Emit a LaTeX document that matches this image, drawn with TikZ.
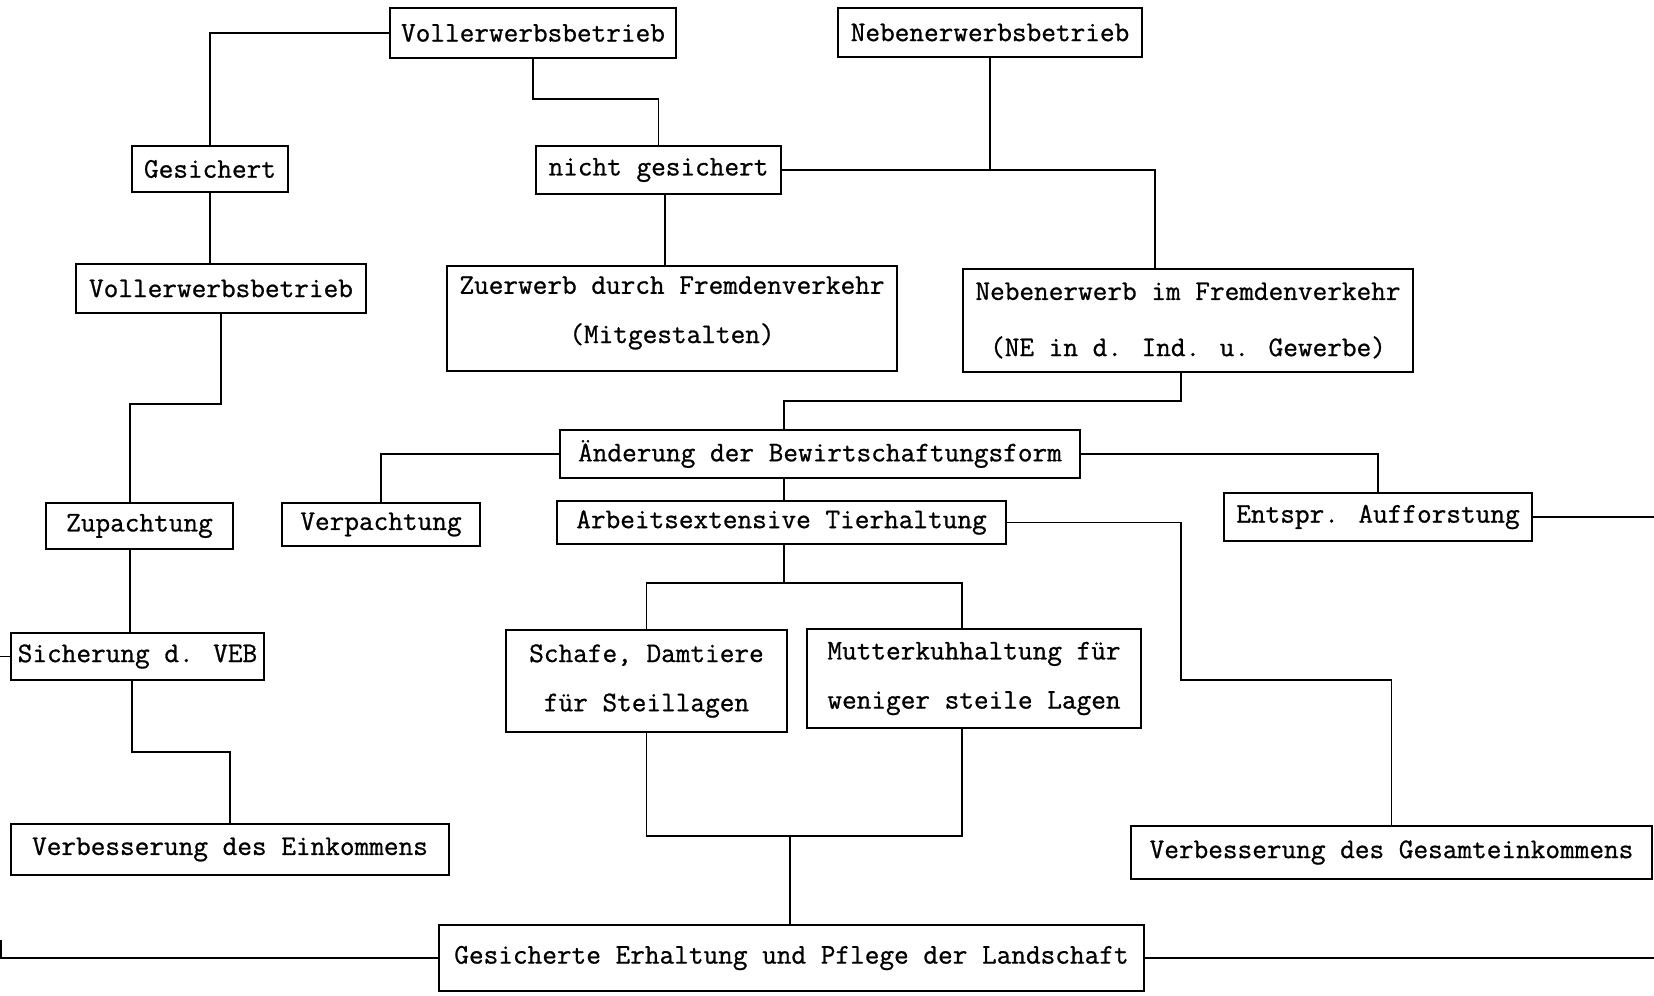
\documentclass[tikz,border=0pt]{standalone}
\usepackage{fontspec}
\newfontfamily\tw{Latin Modern Mono}[FakeBold=0.8]
\newcommand\mybox[6]{\node[boxst, minimum width={(#4-#2)*0.02cm}, minimum height={(#5-#3)*0.02cm}] (#1) at ({(#2+#4)/2},{(#3+#5)/2}) {#6};}
\begin{document}
\begin{tikzpicture}[x=0.02cm, y=-0.02cm,
  boxst/.style={draw=black, line width=1.4pt, inner sep=0pt, align=center, fill=white,
    font=\tw\fontsize{16.2}{28}\selectfont},
  conn/.style={draw=black, line width=1.1pt}]
\useasboundingbox[fill=white] (0,0) rectangle (1654,995);

\mybox{v1}{390}{8}{676}{58}{Vollerwerbsbetrieb}
\mybox{neb}{838}{8}{1142}{57}{Nebenerwerbsbetrieb}
\mybox{ges}{132}{146}{288}{192}{Gesichert}
\mybox{ng}{536}{146}{781}{194}{nicht gesichert}
\mybox{v2}{76}{264}{366}{313}{Vollerwerbsbetrieb}
\mybox{zu}{447}{266}{897}{371}{Zuerwerb durch Fremdenverkehr\\(Mitgestalten)\rule[-10pt]{0pt}{0pt}}
\mybox{ne}{963}{269}{1413}{372}{Nebenerwerb im Fremdenverkehr\\[4pt](NE in d. Ind. u. Gewerbe)}
\mybox{aend}{560}{430}{1080}{478}{Änderung der Bewirtschaftungsform}
\mybox{zup}{46}{503}{233}{549}{Zupachtung}
\mybox{verp}{282}{503}{480}{546}{Verpachtung}
\mybox{arb}{557}{501}{1006}{544}{Arbeitsextensive Tierhaltung}
\mybox{ent}{1224}{493}{1532}{541}{Entspr. Aufforstung}
\mybox{sich}{11}{633}{264}{680}{Sicherung d. VEB}
\mybox{sch}{506}{630}{787}{732}{Schafe, Damtiere\\für Steillagen}
\mybox{mut}{807}{629}{1141}{728}{Mutterkuhhaltung für\\weniger steile Lagen}
\mybox{vei}{11}{824}{449}{875}{Verbesserung des Einkommens}
\mybox{vge}{1131}{826}{1652}{879}{Verbesserung des Gesamteinkommens}
\mybox{gel}{439}{925}{1144}{991}{Gesicherte Erhaltung und Pflege der Landschaft}

\coordinate (lft1) at (0,0 |- sich.west);
\coordinate (lft2) at (1,0 |- gel.west);
\coordinate (lft3) at (1,940);
\coordinate (rgt1) at (1654,0 |- ent.east);
\coordinate (rgt2) at (1654,0 |- gel.east);

\begin{scope}[conn]
\draw (v1.west) -| (ges.north);
\draw (v1.south) -- (v1.south |- 0,99) -| (ng.north);
\draw (neb.south) -- (neb.south |- ng.east);
\draw (ng.east) -- (1155,0 |- ng.east) -- (1155,0 |- ne.north);
\draw (ges.south) -- (ges.south |- v2.north);
\draw (v2.south) -- (v2.south |- 0,404) -- (130,404) -- (130,0 |- zup.north);
\draw (130,0 |- zup.south) -- (130,0 |- sich.north);
\draw (sich.west) -- (lft1);
\draw (132,0 |- sich.south) -- (132,752) -| (vei.north);
\draw (665,0 |- ng.south) -- (665,0 |- zu.north);
\draw (1181,0 |- ne.south) -- (1181,401) -- (784,401) -- (784,0 |- aend.north);
\draw (aend.west) -| (verp.north);
\draw (aend.east) -| (ent.north);
\draw (784,0 |- aend.south) -- (784,0 |- arb.north);
\draw (784,0 |- arb.south) -- (784,583);
\draw (sch.north) -- (sch.north |- 0,583) -- (962,583) -- (962,0 |- mut.north);
\draw (arb.east) -- (1181,0 |- arb.east) -- (1181,680) -| (vge.north);
\draw (ent.east) -- (rgt1);
\draw (sch.south) -- (sch.south |- 0,836) -- (962,836) -- (962,0 |- mut.south);
\draw (790,836) -- (790,0 |- gel.north);
\draw (gel.west) -- (lft2) -- (lft3);
\draw (gel.east) -- (rgt2);
\end{scope}
\end{tikzpicture}
\end{document}
